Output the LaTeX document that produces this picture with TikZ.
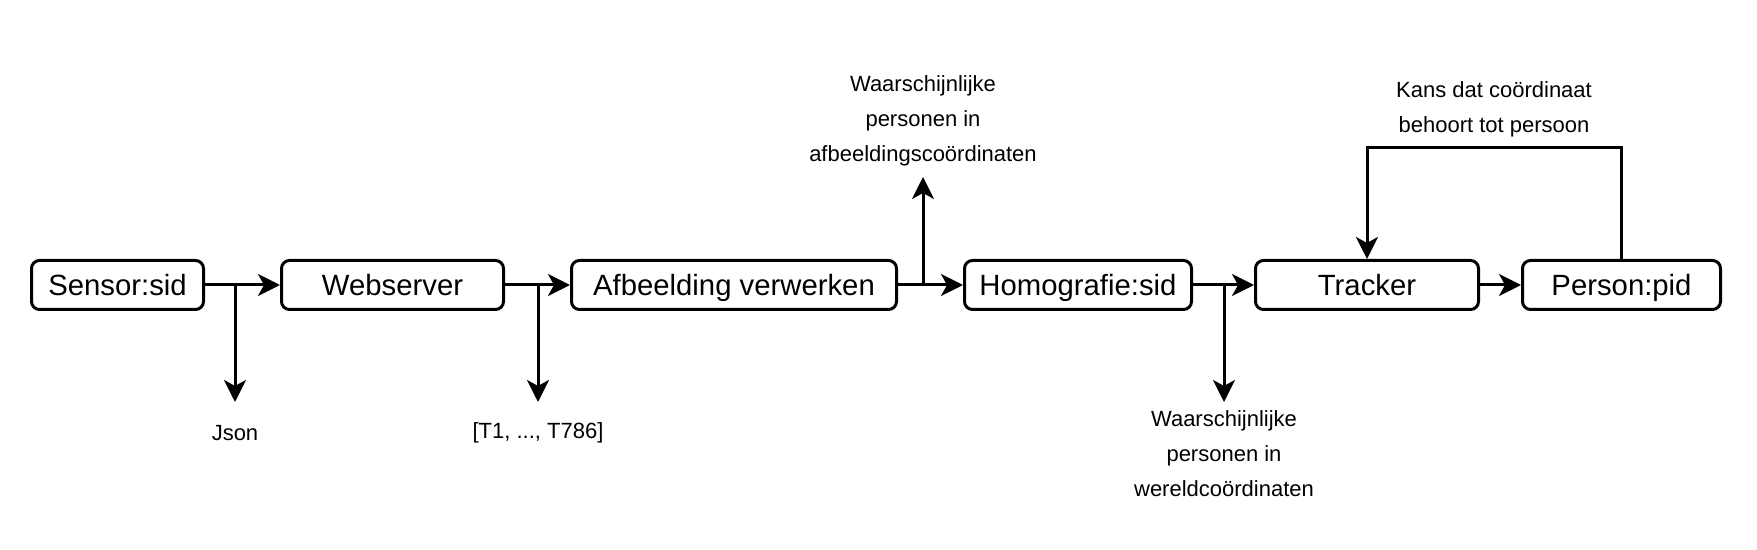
\documentclass[tikz,border=0pt]{standalone}
\usepackage{fontspec}
\setmainfont{Liberation Sans}
\usetikzlibrary{arrows.meta}
\begin{document}
\begin{tikzpicture}[x=0.5pt,y=-0.5pt,
  box/.style={draw,line width=1.5pt,rounded corners=4pt,minimum height=24.5pt,inner sep=0pt,text height=10.5pt,text depth=0pt,font=\fontsize{14.65}{17}\selectfont},
  lbl/.style={inner sep=0pt,align=center,font=\fontsize{11}{17.5}\selectfont},
  flow/.style={line width=1.5pt,-{Stealth[length=11pt,width=11pt,inset=3pt]}},
  wire/.style={line width=1.5pt}]
\useasboundingbox (0,0) rectangle (1757,550);
% boxes
\node[box,minimum width=86pt]    (sensor)  at (117.5,285) {Sensor:sid};
\node[box,minimum width=111pt]   (web)     at (392.5,285) {Webserver};
\node[box,minimum width=162.5pt] (afb)     at (734,285)   {Afbeelding verwerken};
\node[box,minimum width=113.5pt] (homo)    at (1078,285)  {Homografie:sid};
\node[box,minimum width=111.5pt] (tracker) at (1367,285)  {Tracker};
\node[box,minimum width=99pt]    (person)  at (1621.5,285) {Person:pid};
% labels
\node[lbl] (json) at (235,433) {Json};
\node[lbl] (tlist) at (538,433) {[T1, ..., T786]};
\node[lbl] (afbout) at (923,121) {Waarschijnlijke\\personen in\\afbeeldingscoördinaten};
\node[lbl] (homout) at (1224,454) {Waarschijnlijke\\personen in\\wereldcoördinaten};
\node[lbl] (kans) at (1494,109.5) {Kans dat coördinaat\\behoort tot persoon};
% junctions and free ends
\coordinate (j1) at (235,285);
\coordinate (t1) at (235,402);
\coordinate (j2) at (538,285);
\coordinate (t2) at (538,402);
\coordinate (j3) at (923,285);
\coordinate (t3) at (923,177);
\coordinate (j4) at (1224,285);
\coordinate (t4) at (1224,402);
\coordinate (fb) at (1494,148);
% main flow
\draw[flow] (sensor) -- (web);
\draw[flow] (web) -- (afb);
\draw[flow] (afb) -- (homo);
\draw[flow] (homo) -- (tracker);
\draw[flow] (tracker) -- (person);
% branches
\draw[flow] (j1) -- (t1);
\draw[flow] (j2) -- (t2);
\draw[flow] (j3) -- (t3);
\draw[flow] (j4) -- (t4);
% feedback
\draw[flow] (person.north) |- (fb) -| (tracker.north);
\end{tikzpicture}
\end{document}
